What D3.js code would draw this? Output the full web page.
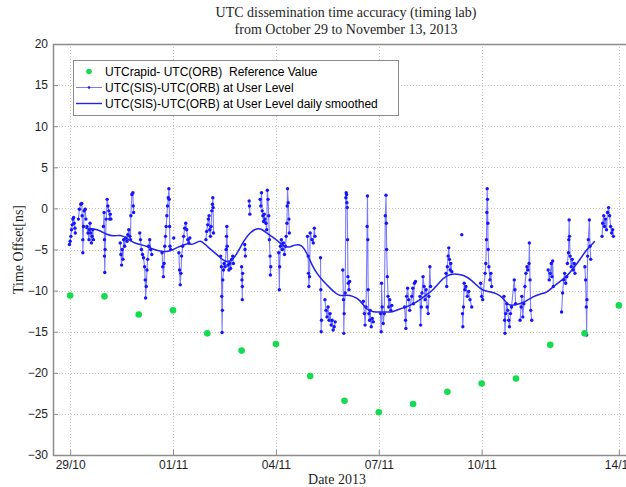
<!DOCTYPE html>
<html>
<head>
<meta charset="utf-8">
<script src="https://cdn.jsdelivr.net/npm/d3@7"></script>
<style>
  body { margin: 0; background: #fff; }
  svg { display: block; }
</style>
</head>
<body>
<svg id="chart" width="626" height="487"></svg>
<script>
// ---- data ---------------------------------------------------------------
// Daily reference values (UTCrapid - UTC(ORB)), ns
const refDates = ["2013-10-29", "2013-10-30", "2013-10-31", "2013-11-01", "2013-11-02",
  "2013-11-03", "2013-11-04", "2013-11-05", "2013-11-06", "2013-11-07", "2013-11-08",
  "2013-11-09", "2013-11-10", "2013-11-11", "2013-11-12", "2013-11-13", "2013-11-14"];
const refValues = [-10.6, -10.7, -12.9, -12.4, -15.2, -17.3, -16.5, -20.4, -23.4,
  -24.8, -23.8, -22.3, -21.3, -20.7, -16.6, -15.2, -11.8];

// Daily smoothed user-level offset: [days since 29 Oct 00:00 UTC, ns]
const smoothed = [
  [0.44, -2.4], [0.68, -2.5], [0.88, -2.7], [1.07, -3.2], [1.27, -3.4], [1.46, -3.2],
  [1.66, -3.6], [1.85, -4.2], [2.04, -4.4], [2.24, -4.6], [2.43, -5.0], [2.63, -5.2],
  [2.82, -5.3], [3.02, -5.0], [3.21, -4.6], [3.41, -4.2], [3.60, -4.5], [3.79, -3.7],
  [3.98, -4.6], [4.28, -5.6], [4.47, -6.4], [4.66, -6.6], [4.86, -5.6], [5.05, -4.0],
  [5.25, -2.9], [5.44, -2.4], [5.59, -2.5], [5.73, -3.0], [5.88, -3.4], [6.07, -4.0],
  [6.22, -4.6], [6.37, -4.8], [6.56, -4.4], [6.75, -4.4], [6.90, -5.4], [7.05, -6.9],
  [7.19, -7.9], [7.39, -8.9], [7.58, -9.7], [7.73, -10.3], [7.87, -10.7], [8.06, -10.5],
  [8.26, -10.7], [8.45, -11.1], [8.65, -12.4], [8.84, -12.6], [9.04, -12.6], [9.23, -12.6],
  [9.42, -12.6], [9.62, -12.2], [9.81, -12.0], [10.01, -11.6], [10.20, -11.1], [10.40, -10.5],
  [10.59, -9.9], [10.79, -8.9], [10.98, -8.1], [11.22, -7.9], [11.47, -8.1], [11.71, -8.7],
  [11.95, -9.8], [12.14, -10.1], [12.44, -10.3], [12.63, -10.9], [12.78, -11.9], [13.02, -11.7],
  [13.21, -11.5], [13.50, -10.7], [13.70, -10.4], [13.89, -10.3], [14.09, -9.5], [14.28, -8.9],
  [14.48, -8.3], [14.67, -7.3], [14.87, -6.2], [15.06, -5.0], [15.30, -4.0]
];

// User-level offset, one array per continuous tracking pass: [days since 29 Oct, ns]
const userLevel = [
  [[-0.02, -4.4], [0.00, -4.0], [0.02, -3.4], [0.04, -2.6], [0.06, -2.0], [0.08, -1.3],
   [0.10, -1.1], [0.12, -1.8], [0.14, -2.4], [0.15, -3.0]],
  [[0.24, -1.3], [0.27, -0.1], [0.31, 0.5], [0.34, 0.6], [0.35, -0.9], [0.37, -3.8],
   [0.37, -5.4], [0.39, -2.2], [0.41, -0.3], [0.44, -0.1], [0.46, -1.3]],
  [[0.49, -2.2], [0.52, -3.0], [0.55, -3.8], [0.56, -2.6], [0.58, -1.8], [0.60, -3.0],
   [0.62, -4.2], [0.64, -3.4], [0.66, -2.6], [0.68, -3.8]],
  [[0.97, -2.2], [0.99, -0.5], [1.00, -3.8], [1.00, -5.8], [1.01, -7.8], [1.02, -5.0],
   [1.05, -1.3], [1.08, 1.1], [1.10, 0.3], [1.13, -0.3], [1.15, -1.3], [1.17, -0.7], [1.19, -1.3]],
  [[1.46, -4.2], [1.48, -5.6], [1.50, -6.9], [1.52, -5.0], [1.54, -6.2], [1.56, -3.8],
   [1.59, -4.6], [1.62, -3.6], [1.66, -4.0], [1.68, -3.2], [1.71, -2.6], [1.74, -3.4],
   [1.76, -3.8], [1.77, -0.9], [1.80, 1.7], [1.83, 1.9], [1.84, 0.3], [1.85, -0.5]],
  [[2.03, -3.0], [2.05, -3.8], [2.08, -5.0], [2.11, -5.6], [2.14, -6.0], [2.17, -7.1],
   [2.19, -8.7], [2.20, -10.9], [2.22, -9.5], [2.24, -7.5], [2.26, -6.2], [2.29, -4.6],
   [2.32, -3.8], [2.35, -5.0], [2.38, -5.6]],
  [[2.68, -5.4], [2.70, -7.1], [2.72, -8.3], [2.74, -6.7], [2.76, -4.6], [2.78, -3.4],
   [2.80, -2.2], [2.82, -0.9], [2.84, 0.3], [2.86, 1.3], [2.88, 2.4], [2.89, 1.1],
   [2.90, -2.2], [2.91, -4.6], [2.93, -5.0]],
  [[3.02, -3.6]],
  [[3.17, -5.4], [3.19, -7.5], [3.21, -9.3], [3.23, -7.9], [3.25, -5.8], [3.28, -4.6],
   [3.31, -3.4], [3.34, -2.4], [3.37, -1.8], [3.40, -2.6], [3.43, -3.8], [3.46, -4.2], [3.49, -3.6]],
  [[3.96, -3.8], [3.98, -2.8], [4.01, -2.0], [4.03, -1.3], [4.05, -0.9], [4.07, -2.6],
   [4.09, -3.4], [4.11, -2.2], [4.13, -0.3], [4.15, 0.5], [4.16, 1.3], [4.17, 0.1], [4.18, -3.0]],
  [[4.39, -5.8], [4.41, -7.1], [4.42, -10.7], [4.43, -15.1], [4.44, -12.4], [4.45, -8.7],
   [4.47, -7.5], [4.49, -6.7], [4.52, -7.1], [4.55, -5.0], [4.56, -3.4], [4.57, -2.2],
   [4.58, -4.6], [4.60, -6.9], [4.63, -7.5], [4.65, -6.7], [4.68, -7.3], [4.71, -6.2],
   [4.74, -5.8], [4.76, -6.7]],
  [[5.00, -7.1], [5.01, -8.7], [5.02, -11.1], [5.02, -9.5], [5.03, -7.9]],
  [[5.09, -4.4], [5.10, -5.0], [5.11, -5.8]],
  [[5.22, 0.9], [5.23, 0.3], [5.24, -0.7]],
  [[5.54, 1.1], [5.56, 0.3], [5.58, 1.9], [5.60, -0.3], [5.62, -0.9], [5.64, -1.6],
   [5.66, -0.7], [5.68, -1.3], [5.71, -1.8], [5.73, -2.6], [5.75, 2.2], [5.77, 1.1],
   [5.79, -0.9], [5.81, -3.8], [5.83, -5.8], [5.84, -8.1], [5.85, -7.1]],
  [[6.08, -5.4], [6.10, -9.9], [6.11, -7.1], [6.13, -4.6], [6.16, -3.8], [6.19, -5.0],
   [6.22, -4.2], [6.25, -5.6], [6.28, -4.6], [6.30, -3.4], [6.32, -1.8], [6.33, 0.3],
   [6.34, 2.4], [6.36, 0.7], [6.38, -1.3], [6.39, -3.0]],
  [[6.92, -3.4], [6.94, -5.8], [6.95, -7.9], [6.96, -9.5], [6.98, -8.3], [7.00, -3.0],
   [7.05, -3.8], [7.09, -4.2], [7.12, -2.4], [7.14, -3.4]],
  [[7.30, -6.0], [7.31, -9.9], [7.32, -15.0], [7.33, -13.6]],
  [[7.43, -11.1], [7.46, -12.4], [7.49, -13.2], [7.52, -12.0], [7.55, -13.6], [7.58, -12.8],
   [7.61, -14.2], [7.64, -13.6], [7.67, -14.8], [7.70, -14.4], [7.73, -13.8]],
  [[7.95, -7.5], [7.97, -11.1], [7.98, -15.2], [7.99, -12.8], [8.02, -10.3], [8.04, 1.3],
   [8.05, 1.9], [8.06, 1.7], [8.07, 0.7], [8.08, 0.1], [8.09, -3.8], [8.10, -8.3],
   [8.11, -9.1], [8.13, -9.9], [8.15, -8.9]],
  [[8.55, -11.3], [8.58, -12.8], [8.60, -14.2], [8.63, -12.0], [8.66, -2.2], [8.67, 1.5],
   [8.68, -3.8], [8.69, -9.9], [8.71, -12.8], [8.73, -13.6], [8.75, -12.4], [8.78, -14.4],
   [8.81, -13.4], [8.84, -13.8]],
  [[9.05, -12.8], [9.07, -15.0], [9.08, -9.1], [9.10, -12.0], [9.13, -14.0], [9.16, -12.8],
   [9.19, -0.9], [9.21, 1.6], [9.22, -1.8], [9.23, -5.0], [9.25, -8.3], [9.27, -10.7],
   [9.29, -12.0], [9.32, -11.1], [9.35, -12.4], [9.38, -11.8]],
  [[9.75, -12.0], [9.78, -13.6], [9.79, -14.6], [9.81, -10.7], [9.84, -9.7], [9.87, -11.1],
   [9.90, -12.4], [9.96, -10.7], [9.99, -9.7], [10.01, -11.6], [10.04, -9.1], [10.07, -8.9]],
  [[10.20, -10.7], [10.22, -14.2], [10.24, -12.0], [10.26, -10.3], [10.29, -8.3], [10.32, -9.5],
   [10.35, -11.1], [10.38, -9.9], [10.41, -12.0], [10.44, -12.8], [10.46, -10.7], [10.49, -7.1],
   [10.51, -9.5]],
  [[10.96, -7.9], [10.98, -9.5], [11.00, -7.1], [11.02, -5.8], [11.04, -4.8], [11.06, -6.2],
   [11.08, -7.5], [11.10, -6.7], [11.13, -7.7]],
  [[11.42, -3.2]],
  [[11.44, -12.8], [11.45, -14.4], [11.47, -12.0], [11.49, -9.1], [11.51, -9.9], [11.54, -9.5],
   [11.58, -10.7], [11.62, -10.1], [11.66, -11.1], [11.71, -12.0]],
  [[11.97, -9.1], [12.00, -10.7], [12.03, -11.1], [12.10, -7.9], [12.12, -6.7], [12.14, -3.8],
   [12.15, -0.5], [12.16, 2.4], [12.17, 1.1], [12.18, -1.8], [12.19, -5.0], [12.21, -7.1],
   [12.24, -8.7], [12.27, -7.9], [12.29, -9.5]],
  [[12.65, -10.7], [12.67, -13.6], [12.68, -15.2], [12.70, -12.8], [12.73, -11.6], [12.76, -12.4],
   [12.79, -13.6], [12.81, -14.4], [12.84, -12.8], [12.87, -12.0], [12.95, -8.7], [12.97, -9.9],
   [12.99, -11.6]],
  [[13.12, -13.6], [13.15, -12.0], [13.17, -10.7], [13.20, -13.2], [13.23, -11.6], [13.26, -9.5],
   [13.29, -7.9], [13.32, -7.1], [13.35, -7.5], [13.38, -6.7], [13.39, -4.2], [13.41, -8.7],
   [13.43, -12.4], [13.46, -13.6]],
  [[13.94, -7.5], [13.97, -8.7], [14.00, -7.9], [14.03, -6.7], [14.05, -8.3], [14.07, -6.4],
   [14.09, -9.5]],
  [[14.33, -12.6], [14.36, -10.3], [14.39, -8.7], [14.42, -7.9], [14.45, -9.1], [14.48, -8.3]],
  [[14.50, -6.7], [14.53, -5.4], [14.54, -3.8], [14.55, -1.4], [14.56, -3.4], [14.58, -5.8],
   [14.61, -7.1], [14.64, -6.2], [14.67, -7.5], [14.70, -6.7], [14.72, -7.9]],
  [[15.01, -7.1], [15.03, -8.7], [15.05, -12.0], [15.06, -15.4], [15.07, -11.1], [15.09, -5.8],
   [15.11, -3.8], [15.14, -1.4], [15.16, -4.6], [15.18, -6.2]],
  [[15.51, -3.4], [15.53, -1.8], [15.56, -0.9], [15.58, -2.2], [15.61, -1.3], [15.64, -2.6],
   [15.67, -0.5], [15.70, 0.1], [15.73, -0.9], [15.76, -2.2], [15.79, -3.0], [15.82, -2.6],
   [15.84, -3.4]]
];

const xTickDates = ["2013-10-29", "2013-11-01", "2013-11-04", "2013-11-07", "2013-11-10", "2013-11-14"];
const yTicks = [20, 15, 10, 5, 0, -5, -10, -15, -20, -25, -30];
const legendLabels = [
  "UTCrapid- UTC(ORB)  Reference Value",
  "UTC(SIS)-UTC(ORB) at User Level",
  "UTC(SIS)-UTC(ORB) at User Level daily smoothed"
];
const titleLines = ["UTC dissemination time accuracy (timing lab)", "from October 29 to November 13, 2013"];

// ---- layout -------------------------------------------------------------
const plot = { left: 53, top: 44, right: 636, bottom: 455 };
const colors = { ref: "#14dc50", user: "#1414ff", userLine: "#7a7aff", smooth: "#2020f0",
  axis: "#8c8c8c", grid: "#c4c4c4", text: "#1e1e1e" };

const parseDay = d3.utcParse("%Y-%m-%d");
const t0 = Date.UTC(2013, 9, 29);
const fromDays = d => new Date(t0 + d * 864e5);

const x = d3.scaleUtc()
  .domain([fromDays(-0.5), fromDays(16.5)])
  .range([plot.left, plot.right]);
const y = d3.scaleLinear().domain([-30, 20]).range([plot.bottom, plot.top]);

const svg = d3.select("#chart");

svg.append("defs").append("clipPath").attr("id", "plotClip")
  .append("rect")
  .attr("x", plot.left).attr("y", plot.top)
  .attr("width", plot.right - plot.left).attr("height", plot.bottom - plot.top);

// grid
const grid = svg.append("g").attr("stroke", colors.grid).attr("stroke-width", 1)
  .attr("stroke-dasharray", "1,2");
grid.selectAll("line.gx").data(xTickDates.map(parseDay)).join("line")
  .attr("x1", d => Math.round(x(d)) + 0.5).attr("x2", d => Math.round(x(d)) + 0.5)
  .attr("y1", plot.top).attr("y2", plot.bottom);
grid.selectAll("line.gy").data(yTicks).join("line")
  .attr("y1", d => Math.round(y(d)) + 0.5).attr("y2", d => Math.round(y(d)) + 0.5)
  .attr("x1", plot.left).attr("x2", plot.right);

const marks = svg.append("g").attr("clip-path", "url(#plotClip)");

// user-level passes: thin connecting line with dot markers
const userLine = d3.line().x(d => x(fromDays(d[0]))).y(d => y(d[1]));
marks.append("g").selectAll("path").data(userLevel).join("path")
  .attr("d", userLine)
  .attr("fill", "none").attr("stroke", colors.userLine).attr("stroke-width", 1.1);
marks.append("g").selectAll("circle").data(userLevel.flat()).join("circle")
  .attr("cx", d => x(fromDays(d[0]))).attr("cy", d => y(d[1]))
  .attr("r", 1.7).attr("fill", colors.user);

// daily smoothed curve
marks.append("path").datum(smoothed)
  .attr("d", d3.line().curve(d3.curveBasis).x(d => x(fromDays(d[0]))).y(d => y(d[1])))
  .attr("fill", "none").attr("stroke", colors.smooth).attr("stroke-width", 1.5);

// reference values
marks.append("g").selectAll("circle").data(refDates.map((d, i) => [parseDay(d), refValues[i]])).join("circle")
  .attr("cx", d => x(d[0])).attr("cy", d => y(d[1]))
  .attr("r", 3.3).attr("fill", colors.ref);

// axes
const xAxis = d3.axisBottom(x).tickValues(xTickDates.map(parseDay))
  .tickFormat(d3.utcFormat("%d/%m")).tickSizeInner(-5).tickSizeOuter(0).tickPadding(5);
const yAxis = d3.axisLeft(y).tickValues(yTicks).tickSizeInner(-5).tickSizeOuter(0).tickPadding(5);

function styleAxis(g) {
  g.select(".domain").remove();
  g.selectAll(".tick line").attr("stroke", colors.axis);
  g.selectAll(".tick text").attr("fill", colors.text)
    .attr("font-family", "'Liberation Sans', Arial, sans-serif").attr("font-size", 12);
}
svg.append("g").attr("transform", `translate(0,${plot.bottom})`).call(xAxis).call(styleAxis);
svg.append("g").attr("transform", `translate(${plot.left},0)`).call(yAxis).call(styleAxis);

// axes box
svg.append("rect")
  .attr("x", plot.left + 0.5).attr("y", plot.top + 0.5)
  .attr("width", plot.right - plot.left).attr("height", plot.bottom - plot.top)
  .attr("fill", "none").attr("stroke", colors.axis).attr("stroke-width", 1.5);

// titles
const serif = "'Liberation Serif', 'Times New Roman', serif";
svg.append("g").selectAll("text").data(titleLines).join("text")
  .attr("x", 346).attr("y", (d, i) => 17 + i * 17)
  .attr("text-anchor", "middle").attr("font-family", serif).attr("font-size", 14)
  .attr("fill", colors.text).text(d => d);
svg.append("text").attr("x", 337).attr("y", 484)
  .attr("text-anchor", "middle").attr("font-family", serif).attr("font-size", 14)
  .attr("fill", colors.text).text("Date 2013");
svg.append("text")
  .attr("transform", `translate(23,${(plot.top + plot.bottom) / 2}) rotate(-90)`)
  .attr("text-anchor", "middle").attr("font-family", serif).attr("font-size", 14)
  .attr("fill", colors.text).text("Time Offset[ns]");

// legend
const legend = svg.append("g");
legend.append("rect").attr("x", 73.5).attr("y", 60.5).attr("width", 325).attr("height", 55)
  .attr("fill", "#fff").attr("stroke", colors.axis).attr("stroke-width", 1);
const rows = [71.5, 87.5, 103.5];
legend.append("circle").attr("cx", 89).attr("cy", rows[0]).attr("r", 2.8).attr("fill", colors.ref);
legend.append("line").attr("x1", 76).attr("x2", 102).attr("y1", rows[1]).attr("y2", rows[1])
  .attr("stroke", colors.userLine).attr("stroke-width", 1);
legend.append("circle").attr("cx", 89).attr("cy", rows[1]).attr("r", 1.3).attr("fill", colors.user);
legend.append("line").attr("x1", 76).attr("x2", 102).attr("y1", rows[2]).attr("y2", rows[2])
  .attr("stroke", colors.smooth).attr("stroke-width", 1.4);
legend.selectAll("text").data(legendLabels).join("text")
  .attr("x", 105).attr("y", (d, i) => rows[i] + 4.3)
  .attr("font-family", "'Liberation Sans', Arial, sans-serif").attr("font-size", 12)
  .attr("fill", "#000").attr("xml:space", "preserve").style("white-space", "pre")
  .text(d => d);
</script>
</body>
</html>
